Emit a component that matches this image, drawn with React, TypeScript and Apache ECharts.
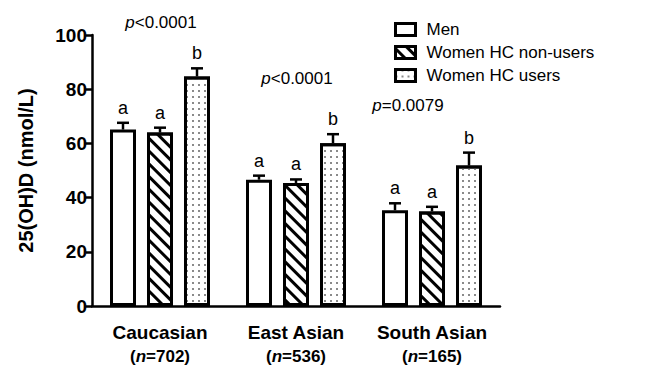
import React, { useEffect, useRef } from "react";
import * as echarts from "echarts";

const categories = ["Caucasian", "East Asian", "South Asian"];
const sampleSizes = ["702", "536", "165"];
const seriesNames = ["Men", "Women HC non-users", "Women HC users"];
const men = [65.1, 46.6, 35.3];
const menErr = [2.5, 1.5, 2.6];
const nonUsers = [64.0, 45.4, 34.9];
const nonUsersErr = [1.8, 1.3, 1.7];
const users = [84.7, 60.1, 51.8];
const usersErr = [3.0, 3.3, 4.8];
const menLetters = ["a", "a", "a"];
const nonUsersLetters = ["a", "a", "a"];
const usersLetters = ["b", "b", "b"];
const pPrefix = ["<0.0001", "<0.0001", "=0.0079"];
const yTicks = [0, 20, 40, 60, 80, 100];

const FONT = "'Liberation Sans', Arial, Helvetica, sans-serif";
const BAR_W = 26;
const BAR_GAP = 11;

export default function App() {
  const ref = useRef<HTMLDivElement>(null);
  useEffect(() => {
    if (!ref.current) return;
    const chart = echarts.init(ref.current, undefined, { renderer: "svg" });

    const groups = [
      { vals: men, errs: menErr, letters: menLetters },
      { vals: nonUsers, errs: nonUsersErr, letters: nonUsersLetters },
      { vals: users, errs: usersErr, letters: usersLetters },
    ];
    const errData: any[] = [];
    const errLetters: string[] = [];
    groups.forEach((g, s) => {
      g.vals.forEach((v, c) => {
        errData.push([c, v, g.errs[c], s]);
        errLetters.push(g.letters[c]);
      });
    });

    const baseItem = { color: "#fff", borderColor: "#000", borderWidth: 3 };
    const decals: any[] = [
      undefined,
      {
        symbol: "rect",
        symbolSize: 1,
        dashArrayX: [1, 0],
        dashArrayY: [2.6, 5.2],
        rotation: Math.PI / 4,
        color: "#000",
      },
      {
        symbol: "rect",
        symbolSize: 1,
        dashArrayX: [1.4, 3.6],
        dashArrayY: [1.4, 3.6],
        rotation: 0,
        color: "#8a8a8a",
      },
    ];
    const valueArrays = [men, nonUsers, users];

    const barSeries = seriesNames.map((name, i) => ({
      name,
      type: "bar",
      data: valueArrays[i],
      barWidth: BAR_W,
      barGap: `${(BAR_GAP / BAR_W) * 100}%`,
      itemStyle: decals[i] ? { ...baseItem, decal: decals[i] } : { ...baseItem },
      z: 2,
    }));

    const pTexts = [
      { x: 161, y: 22 },
      { x: 297, y: 78 },
      { x: 408, y: 105 },
    ];

    chart.setOption({
      animation: false,
      grid: { left: 92, right: 153, top: 35, bottom: 77, containLabel: false },
      legend: {
        orient: "vertical",
        left: 389,
        top: 16,
        itemWidth: 20,
        itemHeight: 12,
        itemGap: 6,
        icon: "rect",
        data: seriesNames,
        itemStyle: { borderWidth: 3, borderColor: "#000" },
        textStyle: { fontFamily: FONT, fontSize: 17, color: "#000", padding: [0, 0, 0, 6] },
      },
      xAxis: {
        type: "category",
        data: categories,
        axisLine: { lineStyle: { color: "#000", width: 2.5 } },
        axisTick: { alignWithLabel: true, length: 8, lineStyle: { color: "#000", width: 2.5 } },
        axisLabel: {
          margin: 13,
          formatter: (v: string, i: number) =>
            `{b|${v}}\n{p|(}{i|n}{p|=${sampleSizes[i]})}`,
          rich: {
            b: { fontFamily: FONT, fontWeight: "bold", fontSize: 19, color: "#000", lineHeight: 26 },
            p: { fontFamily: FONT, fontWeight: "bold", fontSize: 17, color: "#000", lineHeight: 22 },
            i: { fontFamily: FONT, fontWeight: "bold", fontStyle: "italic", fontSize: 17, color: "#000", lineHeight: 22 },
          },
        },
      },
      yAxis: {
        type: "value",
        min: yTicks[0],
        max: yTicks[yTicks.length - 1],
        interval: yTicks[1] - yTicks[0],
        name: "25(OH)D (nmol/L)",
        nameLocation: "middle",
        nameGap: 56,
        nameTextStyle: { fontFamily: FONT, fontWeight: "bold", fontSize: 20, color: "#000" },
        axisLine: { show: true, lineStyle: { color: "#000", width: 2.5 } },
        axisTick: { show: true, length: 6, lineStyle: { color: "#000", width: 2.5 } },
        axisLabel: { fontFamily: FONT, fontWeight: "bold", fontSize: 19, color: "#000", margin: 5 },
        splitLine: { show: false },
      },
      graphic: pTexts.map((p, i) => ({
        type: "text",
        x: p.x,
        y: p.y,
        style: {
          text: `{i|p}{t|${pPrefix[i]}}`,
          align: "center",
          verticalAlign: "middle",
          rich: {
            i: { fontFamily: FONT, fontStyle: "italic", fontSize: 17, fill: "#000" },
            t: { fontFamily: FONT, fontSize: 17, fill: "#000" },
          },
        },
      })),
      series: [
        ...barSeries,
        {
          type: "custom",
          data: errData,
          z: 3,
          clip: false,
          renderItem: (params: any, api: any) => {
            const c = api.value(0);
            const v = api.value(1);
            const e = api.value(2);
            const s = api.value(3);
            const base = api.coord([c, v]);
            const top = api.coord([c, v + e]);
            const x = base[0] + (s - 1) * (BAR_W + BAR_GAP);
            return {
              type: "group",
              children: [
                { type: "line", shape: { x1: x, y1: base[1], x2: x, y2: top[1] }, style: { stroke: "#000", lineWidth: 2.5 } },
                { type: "line", shape: { x1: x - 6, y1: top[1], x2: x + 6, y2: top[1] }, style: { stroke: "#000", lineWidth: 2.5 } },
                {
                  type: "text",
                  x,
                  y: top[1] - 6,
                  style: {
                    text: errLetters[params.dataIndex],
                    align: "center",
                    verticalAlign: "bottom",
                    fontFamily: FONT,
                    fontSize: 18,
                    fill: "#000",
                  },
                },
              ],
            };
          },
        },
      ],
    });
    return () => chart.dispose();
  }, []);
  return (
    <div
      ref={ref}
      style={{ position: "fixed", left: 0, top: 0, width: 653, height: 383, background: "#fff" }}
    />
  );
}
